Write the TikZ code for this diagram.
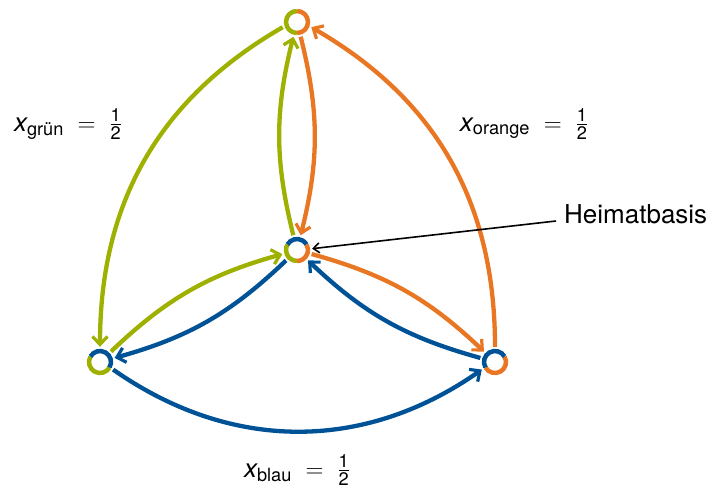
\documentclass[tikz,border=0pt]{standalone}
\usepackage{amsmath}
\usepackage{fontspec}
\setmainfont{TeX Gyre Heros}
\usetikzlibrary{arrows.meta}
\definecolor{cgreen}{RGB}{158,176,0}
\definecolor{corange}{RGB}{232,118,34}
\definecolor{cblue}{RGB}{0,82,150}
\begin{document}
\begin{tikzpicture}[x=1pt,y=-1pt,
  station/.style={circle,minimum size=30pt,inner sep=0pt,draw=none},
  ring/.style={line width=4.5pt},
  flow/.style={line width=4.3pt,-{Straight Barb[length=8pt,width=15pt,line width=3.2pt]}},
  lab/.style={font=\fontsize{26}{30}\selectfont}]
\useasboundingbox (0,0) rectangle (713,496);
\node[station] (t) at (297,22) {};
\node[station] (c) at (297,250) {};
\node[station] (l) at (100,362) {};
\node[station] (r) at (495,362) {};
% edges
\draw[flow,cgreen] (t.200) to[out=210,in=90] (l.90);
\draw[flow,corange] (r.90) to[out=90,in=-30] (t.-20);
\draw[flow,cblue] (l.-30) to[out=-35,in=215] (r.210);
\draw[flow,cgreen] (c) to[bend left=14] (t);
\draw[flow,corange] (t) to[bend left=14] (c);
\draw[flow,cgreen] (l) to[bend left=14] (c);
\draw[flow,cblue] (c) to[bend left=14] (l);
\draw[flow,corange] (c) to[bend left=14] (r);
\draw[flow,cblue] (r) to[bend left=14] (c);
% rings
\draw[ring,cgreen] (t) ++(90:11) arc[start angle=90,end angle=270,radius=11];
\draw[ring,corange] (t) ++(-90:11) arc[start angle=-90,end angle=90,radius=11];
\draw[ring,cgreen] (c) ++(90:11) arc[start angle=90,end angle=210,radius=11];
\draw[ring,cblue] (c) ++(210:11) arc[start angle=210,end angle=330,radius=11];
\draw[ring,corange] (c) ++(-30:11) arc[start angle=-30,end angle=90,radius=11];
\draw[ring,cgreen] (l) ++(30:11) arc[start angle=30,end angle=210,radius=11];
\draw[ring,cblue] (l) ++(210:11) arc[start angle=210,end angle=390,radius=11];
\draw[ring,corange] (r) ++(-30:11) arc[start angle=-30,end angle=150,radius=11];
\draw[ring,cblue] (r) ++(150:11) arc[start angle=150,end angle=330,radius=11];
% labels
\node[lab] (lg) at (68,124) {$\textit{x}_{\text{grün}} \;=\; \frac{\text{1}}{\text{2}}$};
\node[lab] (lo) at (524,124) {$\textit{x}_{\text{orange}} \;=\; \frac{\text{1}}{\text{2}}$};
\node[lab] (lb) at (297,470) {$\textit{x}_{\text{blau}} \;=\; \frac{\text{1}}{\text{2}}$};
\node[lab,anchor=west,inner sep=0pt] (hb) at (564,214) {Heimatbasis};
\draw[line width=1.6pt,-{Straight Barb[length=6pt,width=10pt]}] ([xshift=-8pt,yshift=-7pt]hb.west) -- (c.5);
\end{tikzpicture}
\end{document}
